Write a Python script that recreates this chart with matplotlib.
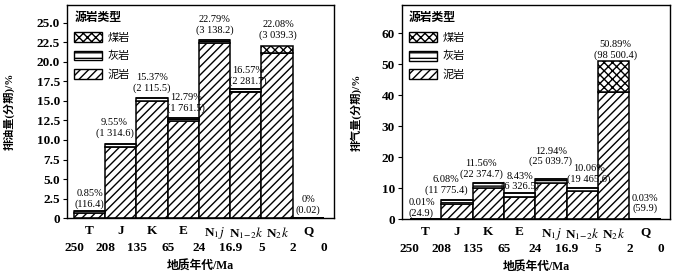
import numpy as np
import matplotlib
matplotlib.use('Agg')
import matplotlib.pyplot as plt
from matplotlib.patches import Patch
from matplotlib.ticker import FuncFormatter

plt.rcParams['font.family'] = ['Liberation Serif', 'Noto Sans CJK SC']
plt.rcParams['mathtext.fontset'] = 'stix'
plt.rcParams['hatch.linewidth'] = 1.0

# --- data ---
periods = ['T', 'J', 'K', 'E', r'N$_1$$j$', r'N$_{1\!-\!2}$$k$', r'N$_2$$k$', 'Q']
ages = ['250', '208', '135', '65', '24', '16.9', '5', '2', '0']

# oil expulsion (%)
oil_mud = [0.70, 9.15, 14.97, 12.39, 22.39, 16.17, 21.18, 0.02]
oil_ash = [0.15, 0.40, 0.40, 0.40, 0.40, 0.40, 0.00, 0.00]
oil_coal = [0.00, 0.00, 0.00, 0.00, 0.00, 0.00, 0.90, 0.00]
oil_pct = ['0.85%', '9.55%', '15.37%', '12.79%', '22.79%', '16.57%', '22.08%', '0%']
oil_amt = ['116.4', '1 314.6', '2 115.5', '1 761.5', '3 138.2', '2 281.7', '3 039.3', '0.02']

# gas expulsion (%)
gas_mud = [0.01, 4.80, 9.90, 7.20, 11.50, 8.90, 41.00, 0.03]
gas_ash = [0.00, 1.28, 1.66, 1.23, 1.44, 1.16, 0.00, 0.00]
gas_coal = [0.00, 0.00, 0.00, 0.00, 0.00, 0.00, 9.89, 0.00]
gas_pct = ['0.01%', '6.08%', '11.56%', '8.43%', '12.94%', '10.06%', '50.89%', '0.03%']
gas_amt = ['24.9', '11 775.4', '22 374.7', '6 326.5', '25 039.7', '19 465.6', '98 500.4', '59.9']

# label nudges (x in bar widths, y in points)
oil_dx = [0.0, -0.2, 0.0, 0.08, 0.0, 0.06, 0.03, 0.0]
oil_dy = [2, 4, 4, 4, 4, 2, 4, 2]
gas_dx = [-0.13, -0.35, -0.23, 0.0, 0.0, 0.2, 0.05, 0.0]
gas_dy = [1, 4, 3, 1, 9, 3, 1, 4]

fig = plt.figure(figsize=(6.87, 2.76), dpi=100)
ax1 = fig.add_axes([0.0975, 0.210, 0.3886, 0.772])
ax2 = fig.add_axes([0.585, 0.2065, 0.390, 0.775])

hatch_mud, hatch_ash, hatch_coal = '////', '---', 'xxxx'


def draw(ax, mud, ash, coal, pct, amt, dx, dy, ylim, yticks, fmt, ylabel, xlim, ylab_x):
    x = np.arange(len(mud))
    mud = np.array(mud)
    ash = np.array(ash)
    coal = np.array(coal)
    kw = dict(width=1.0, align='edge', facecolor='white', edgecolor='black', linewidth=1.1)
    ax.bar(x, mud, hatch=hatch_mud, **kw)
    ax.bar(x, ash, bottom=mud, hatch=hatch_ash, **kw)
    ax.bar(x, coal, bottom=mud + ash, hatch=hatch_coal, **kw)
    tot = mud + ash + coal
    for i in range(len(x)):
        ax.annotate(pct[i] + '\n(' + amt[i] + ')', (x[i] + 0.5 + dx[i], tot[i]),
                    xytext=(0, dy[i]), textcoords='offset points',
                    ha='center', va='bottom', fontsize=7.5, linespacing=1.15)
    ax.set_xlim(*xlim)
    ax.set_ylim(*ylim)
    ax.set_yticks(yticks)
    ax.yaxis.set_major_formatter(FuncFormatter(fmt))
    ax.set_xticks(x + 0.5)
    ax.set_xticklabels(periods)
    ax.set_xticks(np.arange(len(ages)), minor=True)
    ax.set_xticklabels(ages, minor=True)
    ax.tick_params(axis='x', which='major', length=0, pad=5, labelsize=9.5)
    ax.tick_params(axis='x', which='minor', length=0, pad=17, labelsize=9.5)
    ax.tick_params(axis='y', direction='out', length=3, pad=2, labelsize=9.5)
    for lab in ax.get_xticklabels(which='both') + ax.get_yticklabels():
        lab.set_fontweight('bold')
    ax.set_xlabel('地质年代/Ma', fontsize=8.5, fontweight='bold', labelpad=5)
    ax.set_ylabel(ylabel, fontsize=8, fontweight='bold')
    ax.yaxis.set_label_coords(ylab_x, 0.5)
    for s in ax.spines.values():
        s.set_linewidth(1.0)
    handles = [Patch(facecolor='white', edgecolor='black', hatch=hatch_coal, label='煤岩'),
               Patch(facecolor='white', edgecolor='black', hatch=hatch_ash, label='灰岩'),
               Patch(facecolor='white', edgecolor='black', hatch=hatch_mud, label='泥岩')]
    leg = ax.legend(handles=handles, title='源岩类型', loc='upper left',
                    bbox_to_anchor=(0.0, 1.0), frameon=False, fontsize=8,
                    title_fontsize=8.5, handlelength=2.5, handleheight=1.0,
                    labelspacing=0.7, handletextpad=0.5, borderpad=0.15,
                    alignment='left')
    leg.get_title().set_fontweight('bold')


draw(ax1, oil_mud, oil_ash, oil_coal, oil_pct, oil_amt, oil_dx, oil_dy,
     (0, 27.3), np.arange(0, 25.1, 2.5),
     lambda v, p: '0' if v == 0 else '%.1f' % v,
     '排油量(分期)/%', (-0.224, 8.32), -0.195)
draw(ax2, gas_mud, gas_ash, gas_coal, gas_pct, gas_amt, gas_dx, gas_dy,
     (0, 69.0), np.arange(0, 61, 10),
     lambda v, p: '%d' % v,
     '排气量(分期)/%', (-0.255, 8.29), -0.149)

plt.savefig('out.png', dpi=100)
